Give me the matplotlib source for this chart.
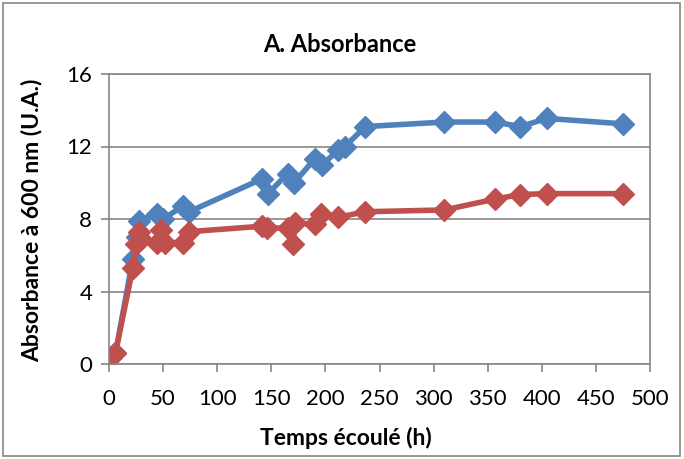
import numpy as np
import matplotlib
matplotlib.use("Agg")
from matplotlib import pyplot as plt

plt.rcParams['font.family'] = ['Lato', 'DejaVu Sans']

# temps (h) et absorbance, serie bleue
t_bleu = [2, 6, 22, 26, 28, 44, 50, 68, 74, 141, 147, 165, 171, 190, 197, 212, 218, 237, 310, 357, 380, 405, 475]
abs_bleu = [0.4, 0.6, 5.8, 7.0, 7.9, 8.3, 8.0, 8.7, 8.4, 10.2, 9.4, 10.5, 10.0, 11.3, 11.0, 11.8, 12.0, 13.1, 13.35, 13.35, 13.1, 13.55, 13.25]

# serie rouge
t_rouge = [2, 6, 22, 25, 28, 30, 44, 48, 52, 68, 74, 141, 146, 165, 170, 172, 190, 196, 212, 237, 310, 357, 380, 405, 475]
abs_rouge = [0.4, 0.6, 5.3, 6.6, 7.3, 6.9, 6.7, 7.4, 6.7, 6.7, 7.3, 7.6, 7.5, 7.5, 6.6, 7.8, 7.7, 8.3, 8.1, 8.4, 8.5, 9.1, 9.35, 9.4, 9.4]

xticks = [0, 50, 100, 150, 200, 250, 300, 350, 400, 450, 500]
yticks = [0, 4, 8, 12, 16]

fig = plt.figure(figsize=(6.84, 4.59), dpi=100)
ax = fig.add_axes([109/684, 1-364/459, (650-109)/684, (364-74)/459])

gris = '#868686'
ax.yaxis.grid(True, color=gris, linewidth=1.2)
ax.set_axisbelow(True)

ax.plot(t_bleu, abs_bleu, color='#4F81BD', linewidth=4, marker='D', markersize=11.5,
        solid_capstyle='round', solid_joinstyle='round')
ax.plot(t_rouge, abs_rouge, color='#C0504D', linewidth=4, marker='D', markersize=11.5,
        solid_capstyle='round', solid_joinstyle='round')

ax.set_xlim(0, 500)
ax.set_ylim(0, 16)
ax.set_xticks(xticks)
ax.set_yticks(yticks)
for s in ax.spines.values():
    s.set_color(gris)
    s.set_linewidth(1.2)
ax.tick_params(direction='out', length=6, color=gris, width=1.2, labelsize=16)
ax.tick_params(axis='x', pad=12)
ax.tick_params(axis='y', pad=6)

fig.text(0.497, 1-45/459, 'A. Absorbance', ha='center', va='center', fontsize=17, fontweight='bold')
fig.text(0.505, 1-438/459, 'Temps écoulé (h)', ha='center', va='center', fontsize=16.5, fontweight='bold')
fig.text(32/684, 1-220/459, 'Absorbance à 600 nm (U.A.)', ha='center', va='center', rotation=90,
         fontsize=16.5, fontweight='bold')

# cadre exterieur du graphique
fig.patches.append(plt.Rectangle((3/684, 3/459), 677/684, 453/459, transform=fig.transFigure,
                                 fill=False, edgecolor=gris, linewidth=1.2))

plt.savefig('out.png', dpi=100)
